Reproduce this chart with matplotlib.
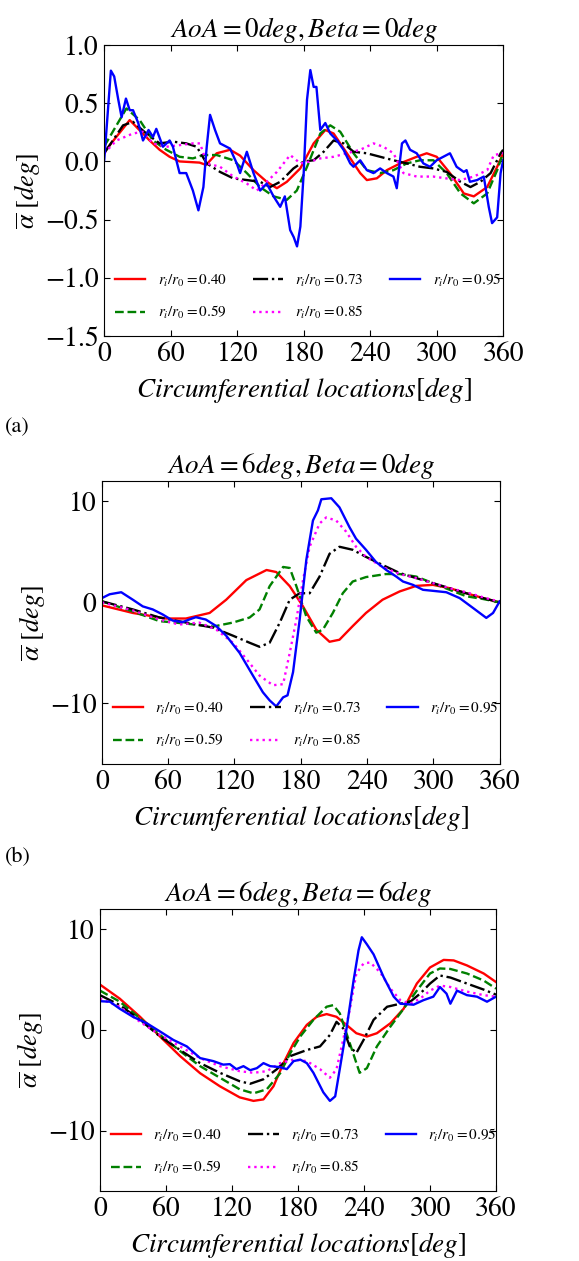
import numpy as np
import matplotlib
matplotlib.use("Agg")
import matplotlib.pyplot as plt

plt.rcParams.update({
    "font.family": "serif",
    "font.serif": ["STIXGeneral", "Liberation Serif", "DejaVu Serif"],
    "mathtext.fontset": "stix",
    "font.size": 19,
    "xtick.labelsize": 20,
    "ytick.labelsize": 20,
    "xtick.direction": "in",
    "ytick.direction": "in",
    "xtick.top": True,
    "ytick.right": True,
})

# ---------------- data ----------------
LABELS = [r"$r_i/r_0=0.40$", r"$r_i/r_0=0.59$", r"$r_i/r_0=0.73$",
          r"$r_i/r_0=0.85$", r"$r_i/r_0=0.95$"]
COLORS = ["red", "green", "black", "magenta", "blue"]
STYLES = ["-", "--", "-.", ":", "-"]

# panel (a): AoA = 0, Beta = 0
a_x040 = [0, 23, 41, 50, 59, 68, 86, 92, 101.5, 113.6, 122.6, 134.7, 146.7, 155.8, 164.8, 176.9,
          189, 199.5, 207, 219, 231, 237, 246, 255, 267, 282, 291, 300, 312, 324.5, 333.5, 345.6, 354.6, 360]
a_y040 = [0.08, 0.355, 0.18, 0.10, 0.04, 0.0, -0.01, -0.03, 0.07, 0.10, 0.05, -0.075, -0.175, -0.23, -0.175, -0.06,
          0.155, 0.27, 0.24, 0.07, -0.10, -0.16, -0.145, -0.075, -0.017, 0.04, 0.07, 0.04, -0.10, -0.275, -0.30, -0.22, -0.046, 0.07]
a_x059 = [0, 20, 32, 44, 56, 68, 80, 89.5, 101.5, 116.6, 128.7, 140.7, 152.8, 164.8, 173.8, 183,
          195, 204, 213, 225, 237, 249, 261, 273, 285, 297, 309, 321.5, 333.5, 345.6, 354.6, 360]
a_y059 = [0.13, 0.455, 0.355, 0.18, 0.10, 0.04, 0.026, 0.055, 0.055, 0.01, -0.10, -0.22, -0.30, -0.33, -0.25, -0.046,
          0.24, 0.31, 0.255, 0.07, -0.075, -0.10, -0.075, -0.017, 0.01, 0.01, -0.10, -0.275, -0.36, -0.275, -0.075, 0.07]
a_x073 = [0, 17, 26, 38, 50, 62, 74, 83.5, 92.5, 104.5, 116.6, 128.7, 140.7, 149.7, 158.8, 170.8, 180,
          189, 198, 207, 216, 225, 237, 249, 261, 273, 285, 297, 309, 321.5, 330.5, 339.5, 348.7, 357.7, 360]
a_y073 = [0.07, 0.31, 0.34, 0.24, 0.155, 0.17, 0.155, 0.126, -0.017, -0.09, -0.146, -0.16, -0.175, -0.22, -0.175, -0.06, 0.0,
          0.01, 0.083, 0.18, 0.155, 0.083, 0.07, 0.04, 0.01, -0.017, -0.046, -0.06, -0.09, -0.175, -0.22, -0.175, -0.10, 0.07, 0.10]
a_x085 = [0, 11, 26, 35, 44, 56, 68, 80, 86.5, 92.5, 104.5, 116.6, 128.7, 137.7, 146.7, 155.8, 167.8, 177,
          186, 195, 207, 219, 231, 243, 252, 261, 270, 282, 297, 309, 321.5, 333.5, 345.6, 351.6, 360]
a_y085 = [0.07, 0.18, 0.24, 0.255, 0.155, 0.126, 0.14, 0.155, 0.155, -0.017, -0.046, -0.13, -0.19, -0.25, -0.175, -0.09, 0.055, -0.017,
          0.0, 0.026, 0.04, 0.07, 0.10, 0.155, 0.126, 0.07, -0.10, -0.13, -0.13, -0.146, -0.16, -0.13, -0.075, 0.055, 0.07]
a_x095 = [0, 6, 9, 12.7, 15.7, 19.6, 23, 26, 30.7, 35, 40, 44, 47, 53, 59, 62, 68, 74, 80, 85, 89.5, 92.5, 95.5,
          100, 104.5, 113.6, 119.6, 122.6, 128.7, 134.7, 140.7, 146.7, 152.8, 158.8, 163, 167.8, 171, 174, 177,
          180, 183, 186, 189, 191.5, 195, 199.5, 204, 210, 216, 222, 225, 231, 237, 243, 249, 255, 261, 264,
          268.7, 271.8, 276, 282, 288, 294, 300, 306, 312, 318, 324.5, 327, 330, 336.5, 342.5, 347, 350, 354.6, 357.7, 360]
a_y095 = [0.01, 0.78, 0.73, 0.53, 0.38, 0.54, 0.44, 0.44, 0.33, 0.18, 0.27, 0.21, 0.28, 0.126, 0.18, 0.126, -0.10, -0.10, -0.25, -0.42, -0.22, 0.126, 0.40,
          0.27, 0.155, 0.11, -0.017, -0.10, 0.083, -0.10, -0.25, -0.19, -0.30, -0.39, -0.30, -0.59, -0.65, -0.73, -0.56,
          -0.10, 0.53, 0.785, 0.64, 0.64, 0.27, 0.33, 0.24, 0.18, 0.10, -0.017, -0.046, 0.01, -0.075, -0.10, -0.06, -0.10, -0.13, -0.23,
          0.155, 0.18, 0.10, 0.07, -0.017, -0.046, 0.01, 0.04, 0.07, -0.046, -0.09, -0.075, -0.175, -0.16, -0.13, -0.39, -0.53, -0.48, -0.10, 0.01]

# panel (b): AoA = 6, Beta = 0
b_x040 = [0, 28, 58, 76, 97.5, 112.5, 130.7, 149, 157.8, 170, 182, 194, 206, 215, 227, 239, 254, 269.5,
          284.5, 299.6, 314.7, 329.8, 345, 360]
b_y040 = [-0.3, -1.05, -1.6, -1.6, -1.05, 0.26, 2.2, 3.2, 3.0, 1.6, -0.4, -2.7, -3.9, -3.7, -2.35, -1.05, 0.26, 1.08,
          1.63, 1.73, 1.4, 0.9, 0.42, 0.0]
b_x059 = [0, 28, 52, 76, 100.5, 118.6, 133.7, 142.7, 151.8, 164, 170, 176, 185, 194, 200, 209, 218, 227,
          239, 257, 269.5, 284.5, 299.6, 314.7, 329.8, 345, 360]
b_y059 = [0.1, -0.9, -1.86, -2.1, -2.4, -2.0, -1.5, -0.7, 1.6, 3.5, 3.4, 1.6, -1.4, -3.0, -2.7, -1.05, 0.9, 2.06,
          2.5, 2.8, 2.8, 2.55, 1.9, 1.24, 0.6, 0.33, 0.0]
b_x073 = [0, 28, 52, 76, 100.5, 118.6, 133.7, 142.7, 151.8, 161, 170, 179, 188, 197, 206, 215, 227, 239,
          254, 269.5, 284.5, 299.6, 314.7, 329.8, 345, 360]
b_y073 = [0.1, -0.7, -1.5, -2.0, -2.5, -3.3, -4.0, -4.4, -4.0, -2.0, 0.26, 0.9, 0.9, 2.55, 4.8, 5.5, 5.2, 4.5,
          3.7, 2.9, 2.4, 1.9, 1.4, 0.9, 0.42, 0.0]
b_x085 = [0, 28, 52, 70, 88, 103.5, 118.6, 130.7, 142.7, 154.8, 164, 170, 176, 182, 188, 197, 203, 212,
          221, 230, 239, 254, 269.5, 284.5, 299.6, 314.7, 329.8, 345, 360]
b_y085 = [0.0, -0.8, -1.7, -2.2, -2.0, -2.7, -4.0, -5.6, -7.25, -8.2, -8.1, -5.0, -1.7, 2.2, 5.5, 7.8, 8.4, 8.1,
          7.0, 5.5, 4.5, 3.5, 2.8, 2.4, 1.9, 1.4, 1.0, 0.5, 0.05]
b_x095 = [0, 7, 17.5, 28, 37, 46, 55, 64, 73, 79, 85, 94, 103.5, 112.5, 124.6, 136.7, 145.7, 151.8, 157.8,
          164, 168, 173, 179, 185, 191, 195.5, 198.6, 207.6, 215, 224, 230, 239, 248, 257.4, 266.4, 272.5,
          281.5, 290.6, 299.6, 311.7, 323.8, 335.8, 347.9, 354, 360]
b_y095 = [0.42, 0.8, 1.0, 0.26, -0.4, -0.7, -1.2, -1.8, -1.96, -1.7, -1.47, -1.7, -2.35, -3.3, -5.0, -7.25, -8.9, -9.7, -10.3,
          -9.4, -9.2, -6.9, -1.7, 4.2, 8.1, 9.1, 10.2, 10.3, 9.4, 7.45, 6.3, 5.2, 4.0, 3.2, 2.55, 2.06,
          1.73, 1.24, 1.14, 1.0, 0.42, -0.55, -1.54, -1.05, 0.1]

# panel (c): AoA = 6, Beta = 6
c_x040 = [0, 18, 36.4, 54.6, 72.8, 91, 109, 127, 139.5, 148.6, 157.7, 166.8, 176, 188, 197, 206, 215, 224,
          233, 242.6, 251.7, 264, 276, 288, 300, 312.4, 321.5, 333.6, 348.8, 360]
c_y040 = [4.5, 3.1, 1.3, -0.66, -2.6, -4.3, -5.6, -6.7, -7.05, -6.9, -5.6, -3.3, -1.3, 0.5, 1.3, 1.57, 1.3, 0.5,
          -0.33, -0.66, -0.33, 0.66, 2.1, 4.6, 6.2, 6.95, 6.9, 6.4, 5.6, 4.75]
c_x059 = [0, 18, 36.4, 54.6, 72.8, 91, 109, 127, 139.5, 151.6, 163.8, 173, 182, 194, 206, 212, 218, 227,
          236, 242.6, 251.7, 264, 276, 288, 300, 309, 318.5, 333.6, 348.8, 360]
c_y059 = [3.9, 2.8, 1.15, -0.5, -2.1, -3.6, -4.75, -5.9, -6.3, -5.9, -4.3, -2.3, -0.66, 1.0, 2.3, 2.46, 1.64, -1.3,
          -4.26, -3.8, -1.64, 0.33, 2.1, 3.9, 5.6, 6.1, 6.05, 5.6, 4.9, 4.1]
c_x073 = [0, 18, 36.4, 54.6, 72.8, 91, 109, 127, 136.5, 148.6, 160.8, 173, 188, 200, 209, 215, 221, 227,
          233, 239.6, 248.7, 261, 273, 282, 291, 300, 309, 318.5, 333.6, 348.8, 360]
c_y073 = [3.45, 2.46, 1.0, -0.66, -2.0, -3.3, -4.26, -5.1, -5.35, -4.9, -3.9, -2.6, -2.0, -1.64, -0.5, 0.8, 0.16, -1.64,
          -2.3, -1.0, 1.0, 2.3, 2.6, 2.8, 3.6, 4.6, 5.4, 5.2, 4.6, 4.0, 3.5]
c_x085 = [0, 18, 36.4, 54.6, 72.8, 91, 109, 127, 139.5, 151.6, 163.8, 176, 188, 200, 209, 215, 221, 227,
          233, 239.6, 245.7, 254.8, 264, 273, 282, 291, 300, 309, 318.5, 333.6, 348.8, 360]
c_y085 = [3.1, 2.3, 0.8, -0.5, -1.64, -2.8, -3.6, -4.1, -4.26, -4.1, -3.3, -2.95, -3.1, -3.9, -4.75, -3.9, -1.0, 1.97,
          5.6, 6.6, 6.7, 5.7, 4.1, 2.95, 2.6, 3.1, 3.9, 4.4, 4.26, 3.8, 3.45, 3.3]
c_x095 = [0, 9, 18, 30, 42.5, 54.6, 66.7, 78.9, 91, 103, 112, 118, 124, 130.4, 136.5, 142.6, 148.6, 154.7,
          163.8, 169.8, 176, 182, 188, 194, 203, 209, 213.8, 218.4, 224.4, 230.5, 235, 238, 242.6, 248.7,
          257.8, 267, 273, 285, 294, 303, 309, 315, 318.5, 324.5, 333.6, 342.7, 351.8, 360]
c_y095 = [2.85, 2.8, 2.1, 1.3, 0.66, -0.16, -1.0, -1.64, -2.8, -3.1, -3.45, -3.4, -3.9, -3.6, -4.0, -3.8, -3.3, -3.6,
          -3.7, -3.9, -3.1, -2.95, -3.3, -4.26, -6.2, -7.05, -6.6, -3.6, 0.33, 4.9, 7.9, 9.2, 8.5, 7.5,
          5.25, 3.3, 2.6, 2.5, 2.95, 3.3, 4.26, 3.6, 2.6, 3.9, 3.45, 3.3, 2.8, 3.3]

panels = [
    {"title": r"$AoA = 0deg, Beta = 0deg$",
     "x": [a_x040, a_x059, a_x073, a_x085, a_x095],
     "y": [a_y040, a_y059, a_y073, a_y085, a_y095],
     "ylim": (-1.5, 1.0), "yticks": [-1.5, -1.0, -0.5, 0.0, 0.5, 1.0],
     "pos": [0.180, 0.7335, 0.689, 0.2308]},
    {"title": r"$AoA = 6deg, Beta = 0deg$",
     "x": [b_x040, b_x059, b_x073, b_x085, b_x095],
     "y": [b_y040, b_y059, b_y073, b_y085, b_y095],
     "ylim": (-16, 12), "yticks": [-10, 0, 10],
     "pos": [0.176, 0.3941, 0.687, 0.2244]},
    {"title": r"$AoA = 6deg, Beta = 6deg$",
     "x": [c_x040, c_x059, c_x073, c_x085, c_x095],
     "y": [c_y040, c_y059, c_y073, c_y085, c_y095],
     "ylim": (-16, 12), "yticks": [-10, 0, 10],
     "pos": [0.1727, 0.0555, 0.684, 0.2236]},
]

fig = plt.figure(figsize=(5.79, 12.61), dpi=100)

for p in panels:
    ax = fig.add_axes(p["pos"])
    for xs, ys, c, ls, lab in zip(p["x"], p["y"], COLORS, STYLES, LABELS):
        ax.plot(xs, ys, color=c, linestyle=ls, linewidth=1.7, label=lab)
    ax.set_xlim(0, 360)
    ax.set_ylim(*p["ylim"])
    ax.set_xticks([0, 60, 120, 180, 240, 300, 360])
    ax.set_yticks(p["yticks"])
    if p["ylim"][0] == -1.5:
        ax.set_yticklabels(["\u22121.5", "\u22121.0", "\u22120.5", "0.0", "0.5", "1.0"])
    ax.tick_params(length=4, width=0.8, pad=4)
    ax.set_title(p["title"], fontsize=19.5, pad=6)
    ax.set_xlabel(r"$Circumferential\ locations[deg]$", fontsize=19.5, labelpad=6)
    ax.set_ylabel(r"$\overline{\alpha}\ [deg]$", fontsize=19, labelpad=2)
    ax.legend(loc="lower left", ncol=3, frameon=False, fontsize=11,
              handlelength=2.0, columnspacing=1.7, labelspacing=1.0,
              borderaxespad=0.3, bbox_to_anchor=(0.0, 0.015))

fig.text(0.008, 0.657, "(a)", fontsize=16)
fig.text(0.008, 0.316, "(b)", fontsize=16)

fig.savefig("out.png", dpi=100, facecolor="white")
